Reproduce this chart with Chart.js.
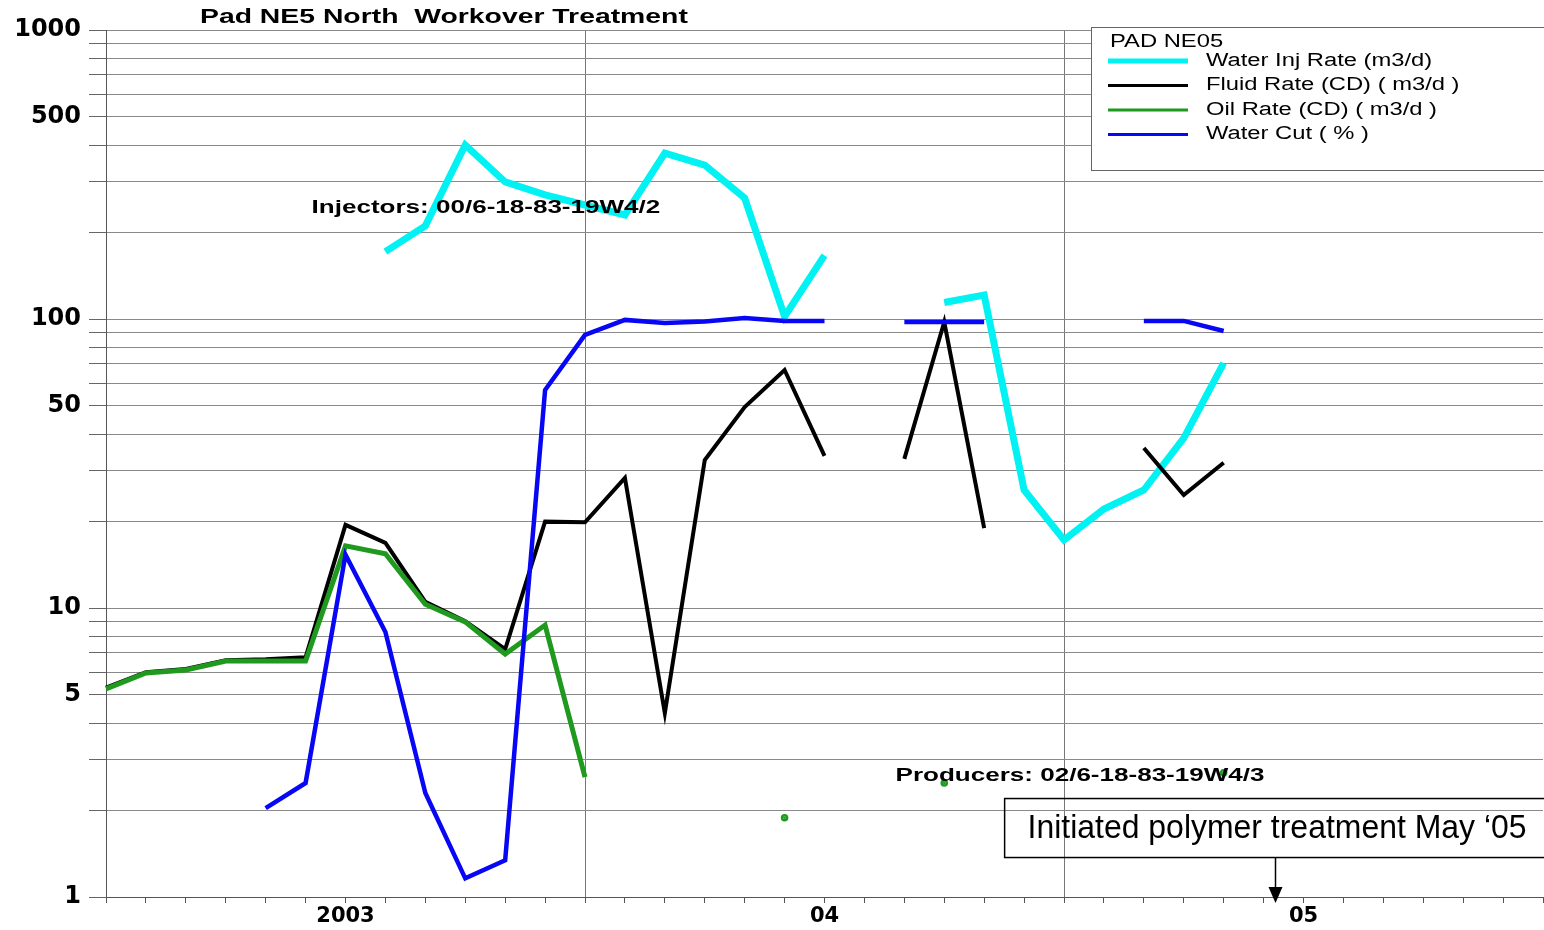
<!DOCTYPE html>
<html>
<head>
<meta charset="utf-8">
<script src="https://cdn.jsdelivr.net/npm/chart.js@4.4.1/dist/chart.umd.min.js"></script>
<style>
  html, body { margin:0; padding:0; background:#fff; }
  #wrap { position:relative; width:1544px; height:930px; }
</style>
</head>
<body>
<div id="wrap"><canvas id="padChart"></canvas></div>
<script>
// Pad NE5 North - workover treatment, monthly rates on log scale

const months = [
  '2002-07','2002-08','2002-09','2002-10','2002-11','2002-12',
  '2003-01','2003-02','2003-03','2003-04','2003-05','2003-06',
  '2003-07','2003-08','2003-09','2003-10','2003-11','2003-12',
  '2004-01','2004-02','2004-03','2004-04','2004-05','2004-06',
  '2004-07','2004-08','2004-09','2004-10','2004-11','2004-12',
  '2005-01','2005-02','2005-03','2005-04','2005-05','2005-06',
  '2005-07'
];
const yearLabels = { '2003-01':'2003', '2004-01':'04', '2005-01':'05' };
const halfYearGrid = ['2003-07','2004-07'];

const yTickValues = [1,2,3,4,5,6,7,8,9,10,20,30,40,50,60,70,80,90,100,200,300,400,500,600,700,800,900,1000];
const yTickLabels = [1,5,10,50,100,500,1000];

const waterInj = [null,null,null,null,null,null,null,171,210,400,298,269,248,229,375,341,262,102,166,null,null,114,121,25.6,17.2,22,25.6,38.7,70.4,null,null,null,null,null,null,null,null];
const fluidRate = [5.3,6.0,6.15,6.6,6.65,6.75,19.4,16.8,10.5,9.0,7.2,19.9,19.8,28.2,4.33,32.5,49.6,66.6,33.6,null,32.8,97.6,18.9,null,null,null,35.8,24.6,31.8,null,null,null,null,null,null,null,null];
const oilRate = [5.25,5.96,6.1,6.55,6.55,6.55,16.4,15.4,10.3,8.95,6.93,8.73,2.6,null,null,null,null,1.88,null,null,null,2.48,null,null,null,null,null,null,2.69,null,null,null,null,null,null,null,null];
const waterCut = [null,null,null,null,2.03,2.48,15.3,8.26,2.29,1.16,1.34,56.8,88.1,99.3,96.9,98,100.7,98.5,98.5,null,97.6,97.6,97.6,null,null,null,98.5,98.5,90.9,null,null,null,null,null,null,null,null];

const FONT = "'DejaVu Sans', 'Liberation Sans', sans-serif";
const ARIAL = "'Liberation Sans', Arial, sans-serif";

// single points with no neighbours get a dot, otherwise no markers
function isolatedRadius(ctx){
  const d = ctx.dataset.data, i = ctx.dataIndex;
  if (d[i] == null) return 0;
  const prev = i > 0 ? d[i-1] : null, next = i < d.length-1 ? d[i+1] : null;
  return (prev == null && next == null) ? 1.3 : 0;
}

// the original export has its lettering stretched sideways
function wideText(c, txt, x, y, sx){
  c.save();
  c.translate(x, y);
  c.scale(sx, 1);
  c.fillText(txt, 0, 0);
  c.restore();
}

const annotations = {
  id: 'padAnnotations',
  afterDraw(chart){
    const c = chart.ctx, x = chart.scales.x, y = chart.scales.y;
    c.save();
    c.fillStyle = '#000';
    c.textAlign = 'left';
    c.textBaseline = 'middle';

    // title
    c.font = 'bold 21px ' + ARIAL;
    wideText(c, 'Pad NE5 North  Workover Treatment', 200, 17, 1.35);

    // well notes
    c.font = 'bold 19px ' + ARIAL;
    wideText(c, 'Injectors: 00/6-18-83-19W4/2', x.getPixelForValue(5.15), y.getPixelForValue(242), 1.37);
    wideText(c, 'Producers: 02/6-18-83-19W4/3', x.getPixelForValue(19.78), y.getPixelForValue(2.63), 1.37);

    // polymer note box + arrow
    const bx = x.getPixelForValue(22.5), by = y.getPixelForValue(2.2), bb = y.getPixelForValue(1.375);
    c.strokeStyle = '#000';
    c.lineWidth = 1.5;
    c.strokeRect(bx + 0.5, by + 0.5, chart.width - bx + 10, bb - by);
    c.font = '33px ' + ARIAL;
    c.textAlign = 'center';
    c.fillText('Initiated polymer treatment May \u201805', (bx + chart.width) / 2 + 3, (by + bb) / 2 + 1, 499);
    const ax = Math.round(x.getPixelForValue(29.28)) + 0.5;
    c.beginPath();
    c.moveTo(ax, bb);
    c.lineTo(ax, chart.chartArea.bottom - 8);
    c.stroke();
    c.beginPath();
    c.moveTo(ax - 7, chart.chartArea.bottom - 10);
    c.lineTo(ax + 7, chart.chartArea.bottom - 10);
    c.lineTo(ax, chart.chartArea.bottom + 6);
    c.closePath();
    c.fill();

    // legend
    c.fillStyle = '#fff';
    c.fillRect(1091, 27, 460, 143);
    c.strokeStyle = '#666';
    c.lineWidth = 1;
    c.strokeRect(1091.5, 27.5, 460, 143);
    c.fillStyle = '#000';
    c.textAlign = 'left';
    c.font = '18px ' + ARIAL;
    wideText(c, 'PAD NE05', 1110, 42, 1.32);
    chart.data.datasets.forEach((ds, i) => {
      const ly = 61 + i * 24.5;
      c.strokeStyle = ds.borderColor;
      c.lineWidth = i === 0 ? 5 : 3;
      c.beginPath();
      c.moveTo(1108, ly);
      c.lineTo(1188, ly);
      c.stroke();
      wideText(c, ds.label, 1206, ly, 1.32);
    });
    c.restore();
  }
};

Chart.defaults.font.family = FONT;

new Chart(document.getElementById('padChart').getContext('2d'), {
  type: 'line',
  data: {
    labels: months,
    datasets: [
      { label:'Water Inj Rate (m3/d)', data:waterInj, borderColor:'#00f2f2', borderWidth:7, order:4 },
      { label:'Fluid Rate (CD) ( m3/d )', data:fluidRate, borderColor:'#000000', borderWidth:4, order:3 },
      { label:'Oil Rate (CD) ( m3/d )', data:oilRate, borderColor:'#1f9a1f', backgroundColor:'#1f9a1f', borderWidth:5, order:2 },
      { label:'Water Cut ( % )', data:waterCut, borderColor:'#0707f5', borderWidth:4.5, order:1 }
    ]
  },
  options: {
    responsive:true,
    maintainAspectRatio:false,
    animation:false,
    spanGaps:false,
    layout:{ padding:{ top:30, right:0, left:0, bottom:0 } },
    elements:{
      line:{ tension:0, fill:false, borderJoinStyle:'miter' },
      point:{ radius:isolatedRadius, borderWidth:0, hoverRadius:0 }
    },
    plugins:{ legend:{ display:false }, title:{ display:false }, tooltip:{ enabled:false } },
    scales:{
      x:{
        type:'category',
        offset:false,
        afterFit(s){ s.height = 33; },
        grid:{
          color: ctx => (ctx.tick && halfYearGrid.includes(months[ctx.index])) ? '#777' : 'rgba(0,0,0,0)',
          tickColor:'#555',
          tickLength:6,
          lineWidth:1
        },
        border:{ display:true, color:'#555', width:1 },
        ticks:{
          autoSkip:false, maxRotation:0, minRotation:0, padding:1,
          color:'#000',
          font:{ size:21, weight:'bold' },
          callback:(v, i) => yearLabels[months[i]] || ''
        }
      },
      y:{
        type:'logarithmic',
        min:1, max:1000,
        afterFit(s){ s.width = 106; },
        afterBuildTicks(s){ s.ticks = yTickValues.map(v => ({ value:v })); },
        grid:{ color:'#8a8a8a', tickColor:'#666', tickLength:17, lineWidth:1 },
        border:{ display:true, color:'#555', width:1 },
        ticks:{
          padding:8,
          color:'#000',
          font:{ size:24, weight:'bold' },
          callback:v => yTickLabels.includes(v) ? String(v) : ''
        }
      }
    }
  },
  plugins:[annotations]
});
</script>
</body>
</html>
